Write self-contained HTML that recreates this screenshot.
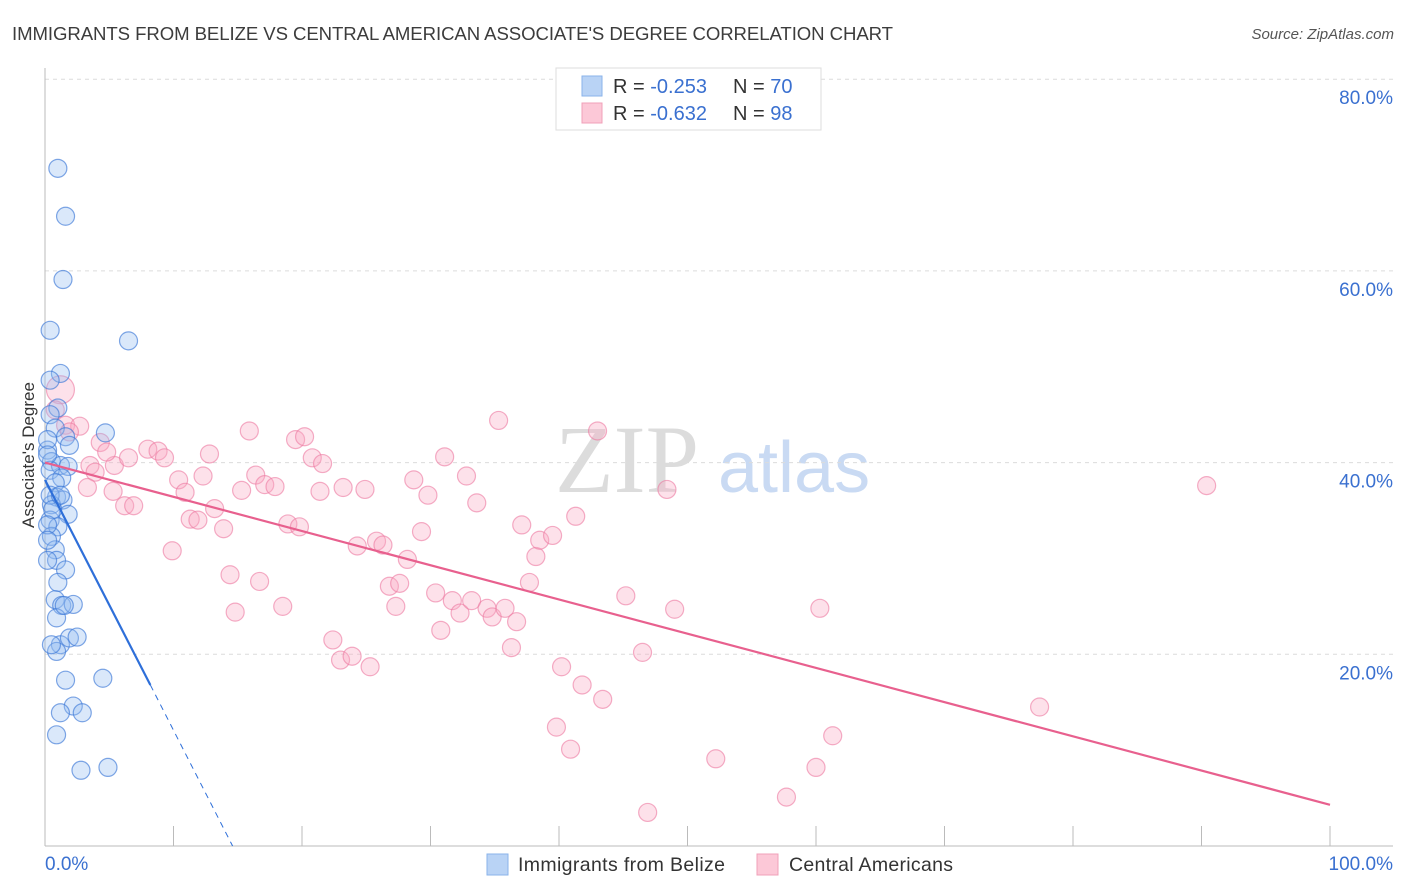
<!DOCTYPE html>
<html><head><meta charset="utf-8"><style>
body{margin:0;background:#fff;font-family:"Liberation Sans",sans-serif}
</style></head><body>
<svg id="chart" width="1406" height="892" xmlns="http://www.w3.org/2000/svg" style="display:block">
<text x="12" y="40" font-size="18.6" fill="#3c3c3c" textLength="881">IMMIGRANTS FROM BELIZE VS CENTRAL AMERICAN ASSOCIATE'S DEGREE CORRELATION CHART</text>
<text x="1394" y="39" font-size="15" fill="#555" font-style="italic" text-anchor="end">Source: ZipAtlas.com</text>
<g>
<text x="555" y="492" font-size="96" font-family="Liberation Serif,serif" fill="#dcdcdc">ZIP</text>
<text x="718" y="492" font-size="72" fill="#c9daf3">atlas</text>
</g>
<g id="grid"></g><g id="axes"></g><g id="pts"></g><g id="lines"></g>
<text transform="translate(34,455) rotate(-90)" font-size="17" fill="#333" text-anchor="middle">Associate's Degree</text>
<g>
<rect x="556" y="68" width="265" height="62" fill="#fff" stroke="#ddd"/>
<rect x="582" y="76" width="20" height="20" fill="#b9d3f5" stroke="#8ab3ea"/>
<rect x="582" y="103" width="20" height="20" fill="#fcc8d7" stroke="#f0a0b8"/>
<text x="613" y="93" font-size="20" fill="#333">R = <tspan fill="#3a70d0">-0.253</tspan></text>
<text x="733" y="93" font-size="20" fill="#333">N = <tspan fill="#3a70d0">70</tspan></text>
<text x="613" y="120" font-size="20" fill="#333">R = <tspan fill="#3a70d0">-0.632</tspan></text>
<text x="733" y="120" font-size="20" fill="#333">N = <tspan fill="#3a70d0">98</tspan></text>
</g>
<g>
<rect x="487" y="854" width="21" height="21" fill="#b9d3f5" stroke="#8ab3ea"/>
<text x="518" y="871" font-size="19.5" fill="#333" textLength="207">Immigrants from Belize</text>
<rect x="757" y="854" width="21" height="21" fill="#fcc8d7" stroke="#f0a0b8"/>
<text x="789" y="871" font-size="19.5" fill="#333" textLength="164">Central Americans</text>
</g>
</svg>
<script>
const yTicks=[20,40,60,80];
const yTickLabels=["20.0%","40.0%","60.0%","80.0%"];
const xTicks=[0,10,20,30,40,50,60,70,80,90,100];
const belizeX=[1.0,1.6,1.4,0.4,6.5,1.2,0.4,1.0,0.4,0.8,1.6,4.7,1.9,0.2,0.5,1.2,1.8,0.4,1.3,0.8,0.9,1.4,0.5,1.8,0.4,1.0,0.5,0.8,0.9,1.6,1.0,0.8,1.3,2.2,0.9,1.2,1.9,2.5,0.9,1.6,4.5,2.2,1.2,2.9,0.9,2.8,4.9,0.2,0.2,0.4,0.6,0.2,0.2,1.2,0.2,1.5,0.5];
const belizeY=[70.7,65.7,59.1,53.8,52.7,49.3,48.6,45.7,45.0,43.6,42.7,43.1,41.8,41.3,40.1,39.7,39.6,39.2,38.4,37.9,36.4,36.1,35.6,34.6,34.0,33.3,32.3,30.9,29.8,28.8,27.5,25.7,25.1,25.2,23.8,21.0,21.7,21.8,20.3,17.3,17.5,14.6,13.9,13.9,11.6,7.9,8.2,42.4,40.8,36.6,35.1,33.5,31.9,36.6,29.8,25.1,21.0];
const centralX=[1.2,0.8,1.6,2.7,4.3,1.9,3.5,3.9,3.3,5.4,5.3,6.2,6.9,6.5,4.8,8.0,8.8,9.3,10.4,10.9,9.9,11.3,11.9,12.8,12.3,13.2,13.9,14.4,14.8,15.3,15.9,16.4,16.7,17.1,17.9,18.5,18.9,19.5,19.8,20.2,20.8,21.4,21.6,23.2,22.4,23.0,23.9,24.3,24.9,25.3,25.8,26.3,26.8,27.3,27.6,28.2,28.7,29.3,29.8,30.4,30.8,31.1,31.7,32.3,32.8,33.2,33.6,34.4,34.8,35.3,35.8,36.3,36.7,37.1,37.7,38.2,38.5,39.5,39.8,40.2,40.9,41.3,41.8,43.0,43.4,45.2,46.5,48.4,49.0,52.2,57.7,60.0,60.3,61.3,46.9,77.4,90.4];
const centralY=[47.6,45.5,43.9,43.8,42.1,43.2,39.7,39.0,37.4,39.7,37.0,35.5,35.5,40.5,41.1,41.4,41.2,40.5,38.2,36.9,30.8,34.1,34.0,40.9,38.6,35.2,33.1,28.3,24.4,37.1,43.3,38.7,27.6,37.7,37.5,25.0,33.6,42.4,33.3,42.7,40.5,37.0,39.9,37.4,21.5,19.4,19.8,31.3,37.2,18.7,31.8,31.4,27.1,25.0,27.4,29.9,38.2,32.8,36.6,26.4,22.5,40.6,25.6,24.3,38.6,25.6,35.8,24.8,23.9,44.4,24.8,20.7,23.4,33.5,27.5,30.2,31.9,32.4,12.4,18.7,10.1,34.4,16.8,43.3,15.3,26.1,20.2,37.2,24.7,9.1,5.1,8.2,24.8,11.5,3.5,14.5,37.6];
const belizeTrend=[[0,38.2],[8.2,16.8],[14.6,0]];
const centralTrend=[[0,40.0],[100,4.3]];
const NS="http://www.w3.org/2000/svg";
const X=v=>45+v*12.85, Y=v=>846-v*9.585;
function mk(tag,a,parent){const e=document.createElementNS(NS,tag);for(const k in a)e.setAttribute(k,a[k]);document.getElementById(parent).appendChild(e);return e;}
yTicks.forEach((t,i)=>{
 const g=mk('line',{x1:45,x2:1393,y1:Y(t),y2:Y(t),stroke:'#dcdcdc','stroke-dasharray':'4,4'},'grid');
 
 
 const l=mk('text',{x:1393,y:Y(t)+25,'font-size':19,fill:'#3a70d0','text-anchor':'end'},'grid');
 l.textContent=yTickLabels[i];
 
 
});
const ax=mk('line',{x1:45,x2:45,y1:68,y2:846,stroke:'#bbb'},'axes');


const bx=mk('line',{x1:45,x2:1393,y1:846,y2:846,stroke:'#bbb'},'axes');


xTicks.forEach(t=>{
 const k=mk('line',{x1:X(t),x2:X(t),y1:826,y2:846,stroke:'#bbb'},'axes');
 
 
});
const x0=mk('text',{x:45,y:870,'font-size':19,fill:'#3a70d0'},'axes');x0.textContent='0.0%';


const x1=mk('text',{x:1393,y:870,'font-size':19,fill:'#3a70d0','text-anchor':'end'},'axes');x1.textContent='100.0%';


centralX.forEach((v,i)=>{
 const c=mk('circle',{cx:X(v),cy:Y(centralY[i]),r:i<1?14:9,fill:'rgba(249,170,195,0.35)',stroke:'rgba(236,120,160,0.6)','stroke-width':1.2},'pts');
 
 
});
belizeX.forEach((v,i)=>{
 const c=mk('circle',{cx:X(v),cy:Y(belizeY[i]),r:9,fill:'rgba(150,190,240,0.35)',stroke:'rgba(60,120,215,0.65)','stroke-width':1.2},'pts');
 
 
});
const b1=mk('line',{x1:X(belizeTrend[0][0]),y1:Y(belizeTrend[0][1]),x2:X(belizeTrend[1][0]),y2:Y(belizeTrend[1][1]),stroke:'#2e6fd9','stroke-width':2.2},'lines');


const b2=mk('line',{x1:X(belizeTrend[1][0]),y1:Y(belizeTrend[1][1]),x2:X(belizeTrend[2][0]),y2:Y(belizeTrend[2][1]),stroke:'#2e6fd9','stroke-width':1,'stroke-dasharray':'6,5'},'lines');


const p1=mk('line',{x1:X(centralTrend[0][0]),y1:Y(centralTrend[0][1]),x2:X(centralTrend[1][0]),y2:Y(centralTrend[1][1]),stroke:'#e8608e','stroke-width':2.2},'lines');


</script>
</body></html>
